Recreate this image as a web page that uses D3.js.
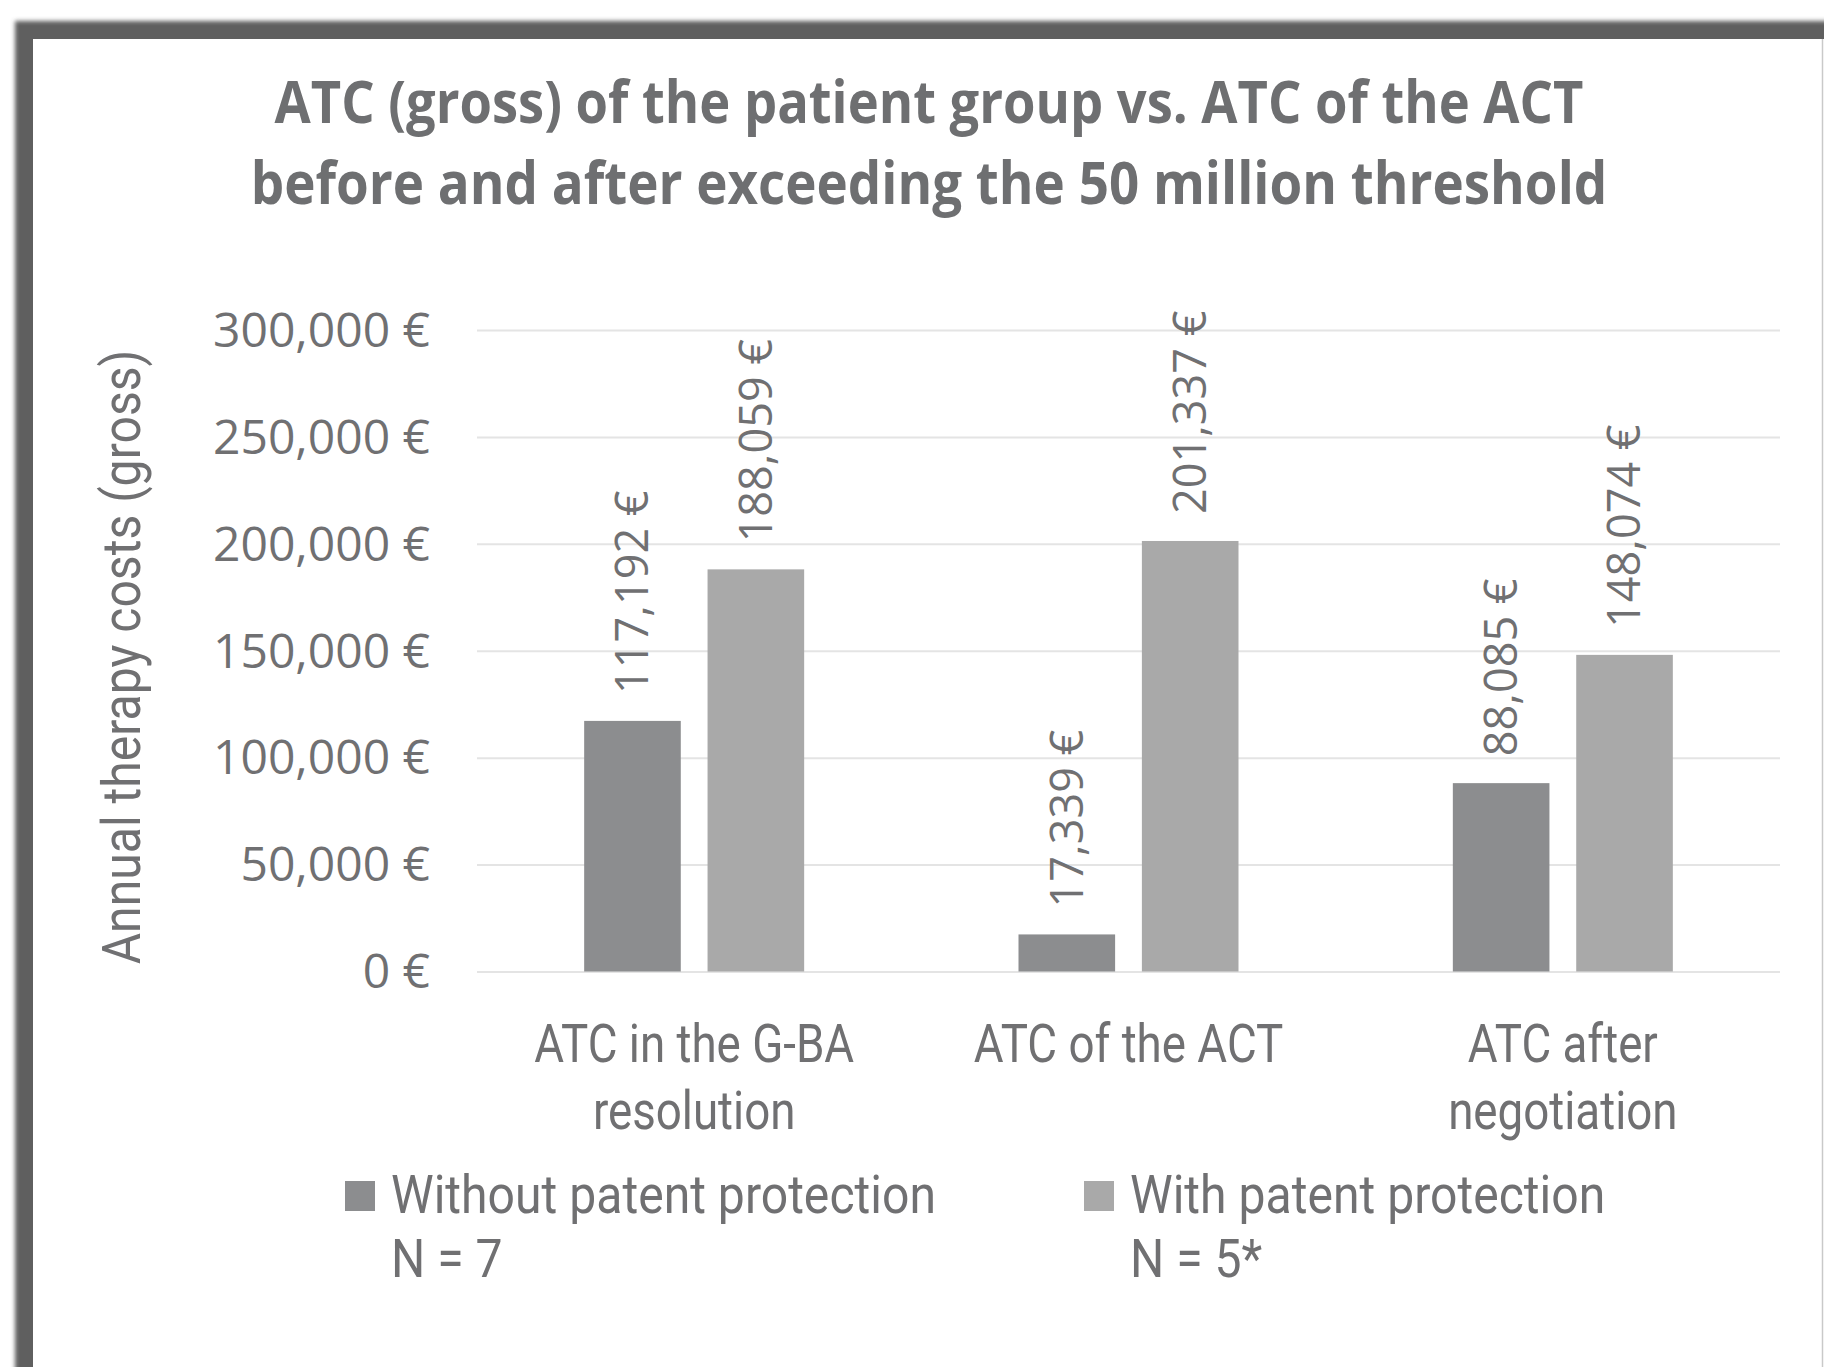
<!DOCTYPE html>
<html><head><meta charset="utf-8">
<script src="https://cdn.jsdelivr.net/npm/d3@7"></script>
<style>html,body{margin:0;padding:0;background:#fff;overflow:hidden;} svg{display:block;}</style>
</head><body>
<script>
// ---------- data ----------
const titleLines = ["ATC (gross) of the patient group vs. ATC of the ACT",
                    "before and after exceeding the 50 million threshold"];
const categories = ["ATC in the G-BA\nresolution", "ATC of the ACT", "ATC after\nnegotiation"];
const seriesNames = ["Without patent protection", "With patent protection"];
const seriesN = ["N = 7", "N = 5*"];
const withoutPatent = [117192, 17339, 88085];
const withPatent = [188059, 201337, 148074];
const yTicks = [0, 50000, 100000, 150000, 200000, 250000, 300000];
const yTitle = "Annual therapy costs (gross)";

// ---------- layout ----------
const W = 1824, H = 1367;
const colors = ["#8c8d8f", "#a9a9a9"];
const textCol = "#707072";
const narrowFont = "Roboto, 'Open Sans', sans-serif";

const svg = d3.select("body").append("svg").attr("width", W).attr("height", H);
const defs = svg.append("defs");
defs.append("filter").attr("id", "blur").attr("x", "-5%").attr("y", "-5%").attr("width", "110%").attr("height", "110%")
  .append("feGaussianBlur").attr("stdDeviation", 2);

// calibrate the condensed look for the narrow labels
const probe = svg.append("text").text(seriesNames[0])
  .attr("font-family", narrowFont).attr("font-size", 53);
const narrow = 545 / probe.node().getComputedTextLength();
probe.remove();

// frame
svg.append("rect").attr("x", 15).attr("y", 21).attr("width", 1900).attr("height", 1500)
  .attr("fill", "#5f5f5f").attr("filter", "url(#blur)");
svg.append("rect").attr("x", 33).attr("y", 39).attr("width", W).attr("height", H).attr("fill", "#fff");
svg.append("line").attr("x1", 1822.5).attr("x2", 1822.5).attr("y1", 39).attr("y2", H)
  .attr("stroke", "#c9c9c9").attr("stroke-width", 1.5);

// title
const titleTargets = [1309, 1357];
const titleY = [123, 204];
titleLines.forEach((t, i) => {
  const g = svg.append("g");
  const tx = g.append("text").text(t)
    .attr("font-family", "'Open Sans', sans-serif").attr("font-weight", 700)
    .attr("font-size", 59).attr("fill", "#6e6f71").attr("text-anchor", "middle");
  const L = tx.node().getComputedTextLength();
  g.attr("transform", `translate(929,${titleY[i]}) scale(${titleTargets[i] / L},1)`);
});

// scales
const plotL = 477, plotR = 1780, plotT = 330, plotB = 971.5;
const y = d3.scaleLinear().domain([0, 300000]).range([plotB, plotT]);
const x0 = d3.scaleBand().domain(categories).range([plotL, plotR]).padding(0);
const x1 = d3.scaleBand().domain(seriesNames).range([-110, 110]).paddingInner(0.217).paddingOuter(0);

// gridlines
const grid = svg.append("g").attr("transform", `translate(${plotL},0)`)
  .call(d3.axisLeft(y).tickValues(yTicks).tickSize(-(plotR - plotL)).tickFormat(""));
grid.select(".domain").remove();
grid.selectAll(".tick line").attr("stroke", "#e4e4e4").attr("stroke-width", 2);

// y axis labels
const fmt = v => d3.format(",")(v) + " €";
const yAxis = svg.append("g").attr("transform", `translate(${plotL},0)`)
  .call(d3.axisLeft(y).tickValues(yTicks).tickSize(0).tickPadding(47).tickFormat(fmt));
yAxis.select(".domain").remove();
yAxis.selectAll("text").attr("font-family", "'Open Sans', sans-serif").attr("font-size", 48)
  .attr("fill", textCol).attr("dy", "0.34em");

// y title
svg.append("g").attr("transform", `translate(121,657) rotate(-90) scale(${narrow},1)`)
  .append("text").text(yTitle)
  .attr("font-family", narrowFont).attr("font-size", 53)
  .attr("fill", textCol).attr("text-anchor", "middle").attr("dy", "0.35em");

// bars
const data = categories.map((c, i) => ({cat: c, vals: [withoutPatent[i], withPatent[i]]}));
const groups = svg.append("g").selectAll("g").data(data).join("g")
  .attr("transform", d => `translate(${x0(d.cat) + x0.bandwidth() / 2},0)`);
groups.selectAll("rect").data(d => d.vals.map((v, j) => ({v, s: seriesNames[j], j}))).join("rect")
  .attr("x", d => x1(d.s)).attr("width", x1.bandwidth())
  .attr("y", d => y(d.v)).attr("height", d => y(0) - y(d.v))
  .attr("fill", d => colors[d.j]);

// value labels
groups.selectAll("g.lab").data(d => d.vals.map((v, j) => ({v, s: seriesNames[j], j}))).join("g")
  .attr("class", "lab")
  .attr("transform", d => `translate(${x1(d.s) + x1.bandwidth() / 2},${y(d.v) - 27}) rotate(-90)`)
  .append("text").text(d => fmt(d.v))
  .attr("font-family", "'Open Sans', sans-serif").attr("font-size", 45)
  .attr("fill", textCol).attr("text-anchor", "start").attr("dy", "0.35em");

// category labels
data.forEach(d => {
  const cx = x0(d.cat) + x0.bandwidth() / 2;
  d.cat.split("\n").forEach((line, k) => {
    svg.append("g").attr("transform", `translate(${cx},${1062 + k * 67}) scale(${narrow * 0.95},1)`)
      .append("text").text(line)
      .attr("font-family", narrowFont).attr("font-size", 53)
      .attr("fill", textCol).attr("text-anchor", "middle");
  });
});

// legend
const legX = [345, 1084];
seriesNames.forEach((s, i) => {
  svg.append("rect").attr("x", legX[i]).attr("y", 1181).attr("width", 30).attr("height", 30).attr("fill", colors[i]);
  [s, seriesN[i]].forEach((line, k) => {
    svg.append("g").attr("transform", `translate(${legX[i] + 46},${1213 + k * 64}) scale(${narrow},1)`)
      .append("text").text(line)
      .attr("font-family", narrowFont).attr("font-size", 53)
      .attr("fill", textCol);
  });
});
</script>
</body></html>
